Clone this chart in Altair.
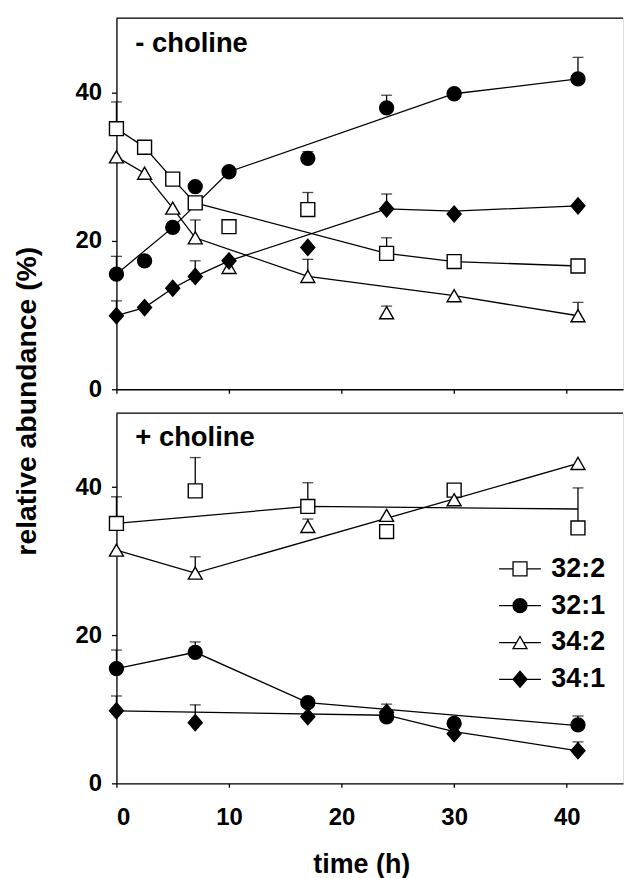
import altair as alt
import pandas as pd

FONT = "Liberation Sans"
series = ["32:2", "32:1", "34:2", "34:1"]

# ---------------- "- choline" panel ----------------
t_minus = [0, 2.5, 5, 7, 10, 17, 24, 30, 41]
minus_vals = {
    "32:2": [35.1, 32.6, 28.3, 25.1, 21.9, 24.2, 18.3, 17.2, 16.6],
    "32:1": [15.5, 17.3, 21.8, 27.3, 29.3, 31.1, 37.9, 39.8, 41.8],
    "34:2": [31.3, 29.1, 24.4, 20.4, 16.4, 15.2, 10.3, 12.6, 9.9],
    "34:1": [9.9, 11.0, 13.6, 15.2, 17.3, 19.1, 24.3, 23.6, 24.7],
}
# upper end of error bars (None = no bar drawn)
minus_err = {
    "32:2": [38.7, None, None, None, None, 26.5, 20.4, None, None],
    "32:1": [17.9, None, None, 27.7, None, 32.0, 39.6, None, 44.7],
    "34:2": [None, None, None, 22.8, None, 17.5, 11.2, None, 11.7],
    "34:1": [11.9, None, None, 17.3, None, None, 26.3, None, None],
}
# trend lines drawn in the figure
minus_line_t = {
    "32:2": [0, 2.5, 5, 7, 24, 30, 41],
    "32:1": [0, 5, 10, 30, 41],
    "34:2": [0, 2.5, 5, 7, 17, 30, 41],
    "34:1": [0, 2.5, 5, 7, 10, 24, 30, 41],
}
minus_line_v = {
    "32:2": [35.1, 32.6, 28.3, 25.1, 18.3, 17.2, 16.6],
    "32:1": [15.5, 21.8, 29.3, 39.8, 41.8],
    "34:2": [31.3, 29.1, 24.4, 20.4, 15.2, 12.6, 9.9],
    "34:1": [9.9, 11.0, 13.6, 15.2, 17.3, 24.3, 24.0, 24.7],
}

# ---------------- "+ choline" panel ----------------
t_plus = [0, 7, 17, 24, 30, 41]
plus_vals = {
    "32:2": [35.1, 39.5, 37.4, 34.0, 39.6, 34.5],
    "32:1": [15.5, 17.7, 10.9, 9.0, 8.1, 7.9],
    "34:2": [31.5, 28.4, 34.7, 36.2, 38.3, 43.2],
    "34:1": [9.8, 8.2, 9.0, 9.6, 6.7, 4.4],
}
plus_err = {
    "32:2": [38.7, 44.0, 40.6, None, None, 39.9],
    "32:1": [18.0, 19.1, None, None, None, 9.1],
    "34:2": [None, 30.6, 35.7, None, None, None],
    "34:1": [11.8, 10.6, None, 10.7, None, 5.6],
}
plus_line_t = {
    "32:2": [0, 17, 41],
    "32:1": [0, 7, 17, 41],
    "34:2": [0, 7, 41],
    "34:1": [0, 24, 30, 41],
}
plus_line_v = {
    "32:2": [35.1, 37.4, 37.05],
    "32:1": [15.5, 17.7, 10.9, 7.8],
    "34:2": [31.5, 28.4, 43.2],
    "34:1": [9.8, 9.2, 7.0, 4.4],
}

x_ticks = [0, 10, 20, 30, 40]
y_ticks = [0, 20, 40]

DIAMOND = "M-1,0L0,-1.15L1,0L0,1.15Z"
shape_range = ["square", "circle", "triangle-up", DIAMOND]
fill_range = ["white", "black", "white", "black"]
stroke_range = ["black", "black", "black", "black"]

# legend symbols: marker with a short line through it
legend_shapes = [
    "M-3,0H-1M1,0H3M-1,-1H1V1H-1Z",
    "M-3,0H-1M1,0H3M1,0A1,1,0,1,1,-1,0A1,1,0,1,1,1,0Z",
    "M-3,0H-0.5M0.5,0H3M0,-0.866L-1,0.866L1,0.866Z",
    "M-3,0H-1M1,0H3M-1,0L0,-1.15L1,0L0,1.15Z",
]

W = 509


def frames(t, vals, err, lt, lv):
    pts, errs, lines = [], [], []
    for s in series:
        for i, ti in enumerate(t):
            pts.append({"series": s, "t": ti, "v": vals[s][i]})
            if err[s][i] is not None:
                errs.append({"series": s, "t": ti, "v": vals[s][i], "hi": err[s][i]})
        for ti, vi in zip(lt[s], lv[s]):
            lines.append({"series": s, "t": ti, "v": vi})
    return pd.DataFrame(pts), pd.DataFrame(errs), pd.DataFrame(lines)


def panel(t, vals, err, lt, lv, label, height, bottom):
    pts, errs, lines = frames(t, vals, err, lt, lv)
    xscale = alt.Scale(domain=[0, 45], nice=False, zero=False)
    yscale = alt.Scale(domain=[0, 50], nice=False)
    if bottom:
        xaxis = alt.Axis(values=x_ticks, title="time (h)", labelFontSize=24,
                         labelFontWeight="bold", labelFont=FONT, labelColor="black",
                         labelPadding=18, titleFontSize=27, titleFontWeight="bold",
                         titleFont=FONT, titleColor="black", titlePadding=23,
                         titleX=246,
                         tickSize=4, tickWidth=1.3, tickColor="black",
                         domainColor="black", domainWidth=1.3, grid=False)
        yaxis = alt.Axis(values=y_ticks, title=None, labelFontSize=24,
                         labelFontWeight="bold", labelFont=FONT, labelColor="black",
                         labelPadding=10, tickSize=5, tickWidth=1.3, tickColor="black",
                         domainColor="black", domainWidth=1.3, grid=False)
    else:
        xaxis = alt.Axis(values=x_ticks, title=None, labels=False,
                         tickSize=4, tickWidth=1.3, tickColor="black",
                         domainColor="black", domainWidth=1.3, grid=False)
        yaxis = alt.Axis(values=y_ticks, title="relative abundance (%)",
                         labelFontSize=24, labelFontWeight="bold", labelFont=FONT,
                         labelColor="black", labelPadding=10, tickSize=5,
                         tickWidth=1.3, tickColor="black", domainColor="black",
                         domainWidth=1.3, grid=False, titleFontSize=28.5,
                         titleFontWeight="bold", titleFont=FONT, titleColor="black",
                         titleAngle=270, titleAlign="center", titleBaseline="middle",
                         titleX=-90, titleY=384.5)
    X = alt.X("t:Q", scale=xscale, axis=xaxis)
    Y = alt.Y("v:Q", scale=yscale, axis=yaxis)

    border = alt.Chart(pd.DataFrame({"a": [0]})).mark_rule(
        color="black", strokeWidth=1.3
    ).encode(x=alt.value(0), x2=alt.value(W), y=alt.value(0))

    line = alt.Chart(lines).mark_line(color="black", strokeWidth=1.3).encode(
        x=X, y=Y, detail="series:N", order="t:Q"
    )
    stems = alt.Chart(errs).mark_rule(color="black", strokeWidth=1.3).encode(
        x="t:Q", y="v:Q", y2="hi:Q"
    )
    caps = alt.Chart(errs).mark_tick(
        color="black", orient="horizontal", size=11, thickness=1.3
    ).encode(x="t:Q", y="hi:Q")

    pts_layer = alt.Chart(pts).mark_point(
        stroke="black", strokeWidth=1.4, size=196, opacity=1, filled=True,
        strokeOpacity=1, fillOpacity=1
    ).encode(
        x="t:Q", y="v:Q",
        shape=alt.Shape("series:N", scale=alt.Scale(domain=series, range=shape_range),
                        legend=None),
        fill=alt.Fill("series:N", scale=alt.Scale(domain=series, range=fill_range),
                      legend=None),
    )
    txt = alt.Chart(pd.DataFrame({"label": [label]})).mark_text(
        align="left", baseline="alphabetic", fontSize=27.5, fontWeight="bold",
        font=FONT, color="black"
    ).encode(text="label:N", x=alt.value(19), y=alt.value(34 if not bottom else 33))

    layers = [line, stems, caps, pts_layer, border, txt]
    if bottom:
        legend = alt.Legend(
            orient="none", legendX=392, legendY=143, title=None,
            symbolSize=196, symbolStrokeWidth=1.3,
            symbolOpacity=1, labelFontSize=27, labelFont=FONT,
            labelFontWeight="bold", labelColor="black", labelOffset=18,
            rowPadding=9, padding=0, labelLimit=300,
        )
        leg_layer = alt.Chart(pd.DataFrame({"key": series, "t": [0] * 4, "v": [0] * 4})
                              ).transform_filter("false").mark_point(
            strokeWidth=1.3, size=196, opacity=1, filled=False
        ).encode(
            x="t:Q", y="v:Q",
            stroke=alt.Stroke("key:N", scale=alt.Scale(domain=series, range=stroke_range),
                              legend=legend),
            shape=alt.Shape("key:N", scale=alt.Scale(domain=series, range=legend_shapes),
                            legend=legend),
            fill=alt.Fill("key:N", scale=alt.Scale(domain=series, range=fill_range),
                          legend=legend),
        )
        layers.append(leg_layer)

    return alt.layer(*layers).resolve_scale(
        shape="independent", fill="independent", stroke="independent"
    ).properties(width=W, height=height)


top = panel(t_minus, minus_vals, minus_err, minus_line_t, minus_line_v,
            "- choline", 373, False)
bot = panel(t_plus, plus_vals, plus_err, plus_line_t, plus_line_v,
            "+ choline", 372, True)

chart = alt.vconcat(top, bot, spacing=24, bounds="flush").resolve_scale(
    shape="independent", fill="independent", stroke="independent"
).properties(
    padding={"left": 12, "top": 14, "right": 0, "bottom": 0}
).configure_view(stroke=None).configure(background="white")

chart.save("out.html", embed_options={"renderer": "svg", "actions": False})
